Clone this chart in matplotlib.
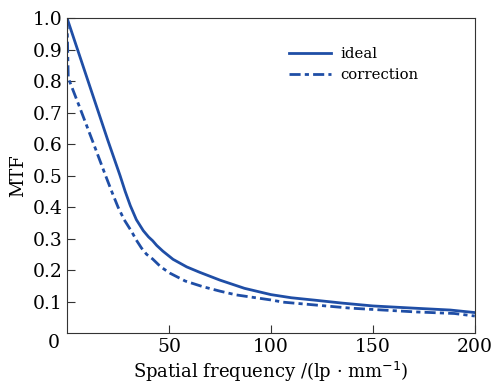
import numpy as np
from matplotlib import pyplot as plt

# values
freq_ideal = [0, 5, 10, 15, 20, 26, 28.5, 31, 34, 37.4, 40, 42, 44, 47, 52, 58.7, 65, 75, 87, 100, 110, 122, 135, 150, 170, 188, 200]
mtf_ideal = [1.0, 0.903, 0.806, 0.709, 0.612, 0.50, 0.45, 0.405, 0.36, 0.325, 0.305, 0.293, 0.278, 0.26, 0.234, 0.21, 0.193, 0.168, 0.142, 0.122, 0.112, 0.104, 0.095, 0.086, 0.079, 0.073, 0.065]
freq_corr = [0, 0.3, 0.6, 6, 12.9, 18.6, 22, 25, 28, 31.7, 34, 36.5, 39, 42, 46, 50.5, 58, 66.7, 75, 83, 100, 106, 120, 139, 155, 171, 190, 200]
mtf_corr = [1.0, 0.9, 0.81, 0.72, 0.603, 0.505, 0.448, 0.40, 0.36, 0.322, 0.295, 0.27, 0.25, 0.235, 0.21, 0.19, 0.165, 0.147, 0.133, 0.121, 0.105, 0.098, 0.09, 0.079, 0.073, 0.067, 0.062, 0.054]

blue = '#1f4ea6'
plt.rcParams['font.family'] = ['DejaVu Serif']

fig = plt.figure(figsize=(4.93, 3.85), dpi=100)
ax = fig.add_axes([0.136, 0.135, 0.827, 0.818])

ax.plot(freq_ideal, mtf_ideal, color=blue, lw=2, label='ideal')
ax.plot(freq_corr, mtf_corr, color=blue, lw=2, dashes=(4, 1.5, 1.5, 1.5), label='correction')

ax.set_xlim(0, 200)
ax.set_ylim(0, 1.0)
ax.set_xticks([50, 100, 150, 200])
ax.set_yticks([0.1, 0.2, 0.3, 0.4, 0.5, 0.6, 0.7, 0.8, 0.9, 1.0])
ax.set_yticklabels(['0.1', '0.2', '0.3', '0.4', '0.5', '0.6', '0.7', '0.8', '0.9', '1.0'])
ax.tick_params(direction='in', length=6, labelsize=13.5, color='#333333')
ax.text(-0.017, -0.032, '0', transform=ax.transAxes, ha='right', va='center', fontsize=13.5)
for s in ax.spines.values():
    s.set_color('#333333')

ax.set_xlabel('Spatial frequency /(lp · mm$^{-1}$)', fontsize=13, labelpad=3)
ax.set_ylabel('MTF', fontsize=13)

ax.legend(loc='center left', bbox_to_anchor=(0.527, 0.852), frameon=False, fontsize=10.7,
          borderpad=0, handlelength=2.8, handletextpad=0.65, labelspacing=0.45)

fig.savefig('out.png', dpi=100)
